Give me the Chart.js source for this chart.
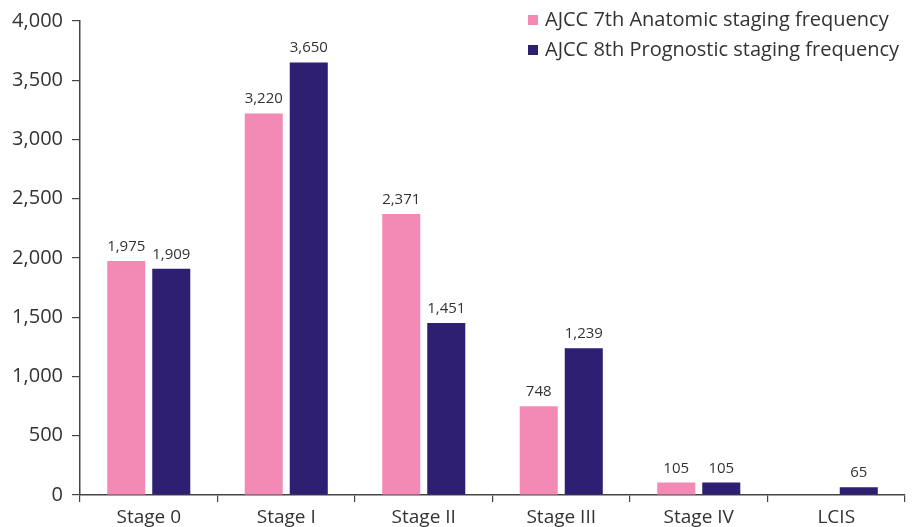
<!DOCTYPE html>
<html>
<head>
<meta charset="utf-8">
<script src="https://cdn.jsdelivr.net/npm/chart.js@4.4.1/dist/chart.umd.min.js"></script>
<style>
  html, body { margin: 0; padding: 0; background: #ffffff; }
  #wrap { width: 920px; height: 527px; position: relative; }
</style>
</head>
<body>
<div id="wrap"><canvas id="chart" width="920" height="527"></canvas></div>
<script>
// Staging categories and frequencies per edition
const categories = ['Stage 0', 'Stage I', 'Stage II', 'Stage III', 'Stage IV', 'LCIS'];
const anatomic7th = [1975, 3220, 2371, 748, 105, null];
const prognostic8th = [1909, 3650, 1451, 1239, 105, 65];
const seriesNames = ['AJCC 7th Anatomic staging frequency', 'AJCC 8th Prognostic staging frequency'];
const yTicks = [0, 500, 1000, 1500, 2000, 2500, 3000, 3500, 4000];

const PINK = '#f38ab6';
const NAVY = '#2e1f72';
const TEXT = '#333333';
const FONT = "'Open Sans', sans-serif";

const fmt = v => v.toLocaleString('en-US');

// Value labels above each bar
const valueLabels = {
  id: 'valueLabels',
  afterDatasetsDraw(chart) {
    const ctx = chart.ctx;
    ctx.save();
    ctx.font = "15px " + FONT;
    ctx.fillStyle = TEXT;
    ctx.textAlign = 'center';
    ctx.textBaseline = 'alphabetic';
    chart.data.datasets.forEach((ds, i) => {
      const meta = chart.getDatasetMeta(i);
      meta.data.forEach((bar, j) => {
        const v = ds.data[j];
        if (v === null || v === undefined) return;
        ctx.fillText(fmt(v), bar.x, bar.y - 10);
      });
    });
    ctx.restore();
  }
};

// Legend stacked in the top-right corner of the plot
const cornerLegend = {
  id: 'cornerLegend',
  afterDraw(chart) {
    const ctx = chart.ctx;
    ctx.save();
    ctx.font = "20px " + FONT;
    ctx.textBaseline = 'middle';
    ctx.textAlign = 'left';
    const x0 = 528;
    chart.data.datasets.forEach((ds, i) => {
      const y = 20 + i * 30;
      ctx.fillStyle = ds.backgroundColor;
      ctx.fillRect(x0, y - 5, 10, 10);
      ctx.fillStyle = TEXT;
      ctx.fillText(ds.label, x0 + 17, y);
    });
    ctx.restore();
  }
};

new Chart(document.getElementById('chart'), {
  type: 'bar',
  data: {
    labels: categories,
    datasets: [
      { label: seriesNames[0], data: anatomic7th, backgroundColor: PINK },
      { label: seriesNames[1], data: prognostic8th, backgroundColor: NAVY }
    ]
  },
  options: {
    responsive: false,
    animation: false,
    devicePixelRatio: 1,
    categoryPercentage: 0.655,
    barPercentage: 0.845,
    layout: { padding: { top: 20, right: 15, left: 0, bottom: 0 } },
    plugins: {
      legend: { display: false },
      tooltip: { enabled: false }
    },
    scales: {
      x: {
        offset: true,
        grid: { offset: true, drawOnChartArea: false, drawTicks: true, tickLength: 7, color: '#444444', lineWidth: 1.2 },
        border: { display: true, color: '#444444', width: 1.5 },
        ticks: { color: TEXT, font: { family: FONT, size: 19 }, padding: 4 },
        afterFit(scale) { scale.height = 32; }
      },
      y: {
        min: 0,
        max: 4000,
        afterBuildTicks(scale) { scale.ticks = yTicks.map(v => ({ value: v })); },
        grid: { drawOnChartArea: false, drawTicks: true, tickLength: 8, color: '#444444', lineWidth: 1.2 },
        border: { display: true, color: '#444444', width: 1.5 },
        ticks: { color: TEXT, font: { family: FONT, size: 20 }, padding: 9, callback: v => fmt(v) },
        afterFit(scale) { scale.width = 80; }
      }
    }
  },
  plugins: [valueLabels, cornerLegend]
});
</script>
</body>
</html>
